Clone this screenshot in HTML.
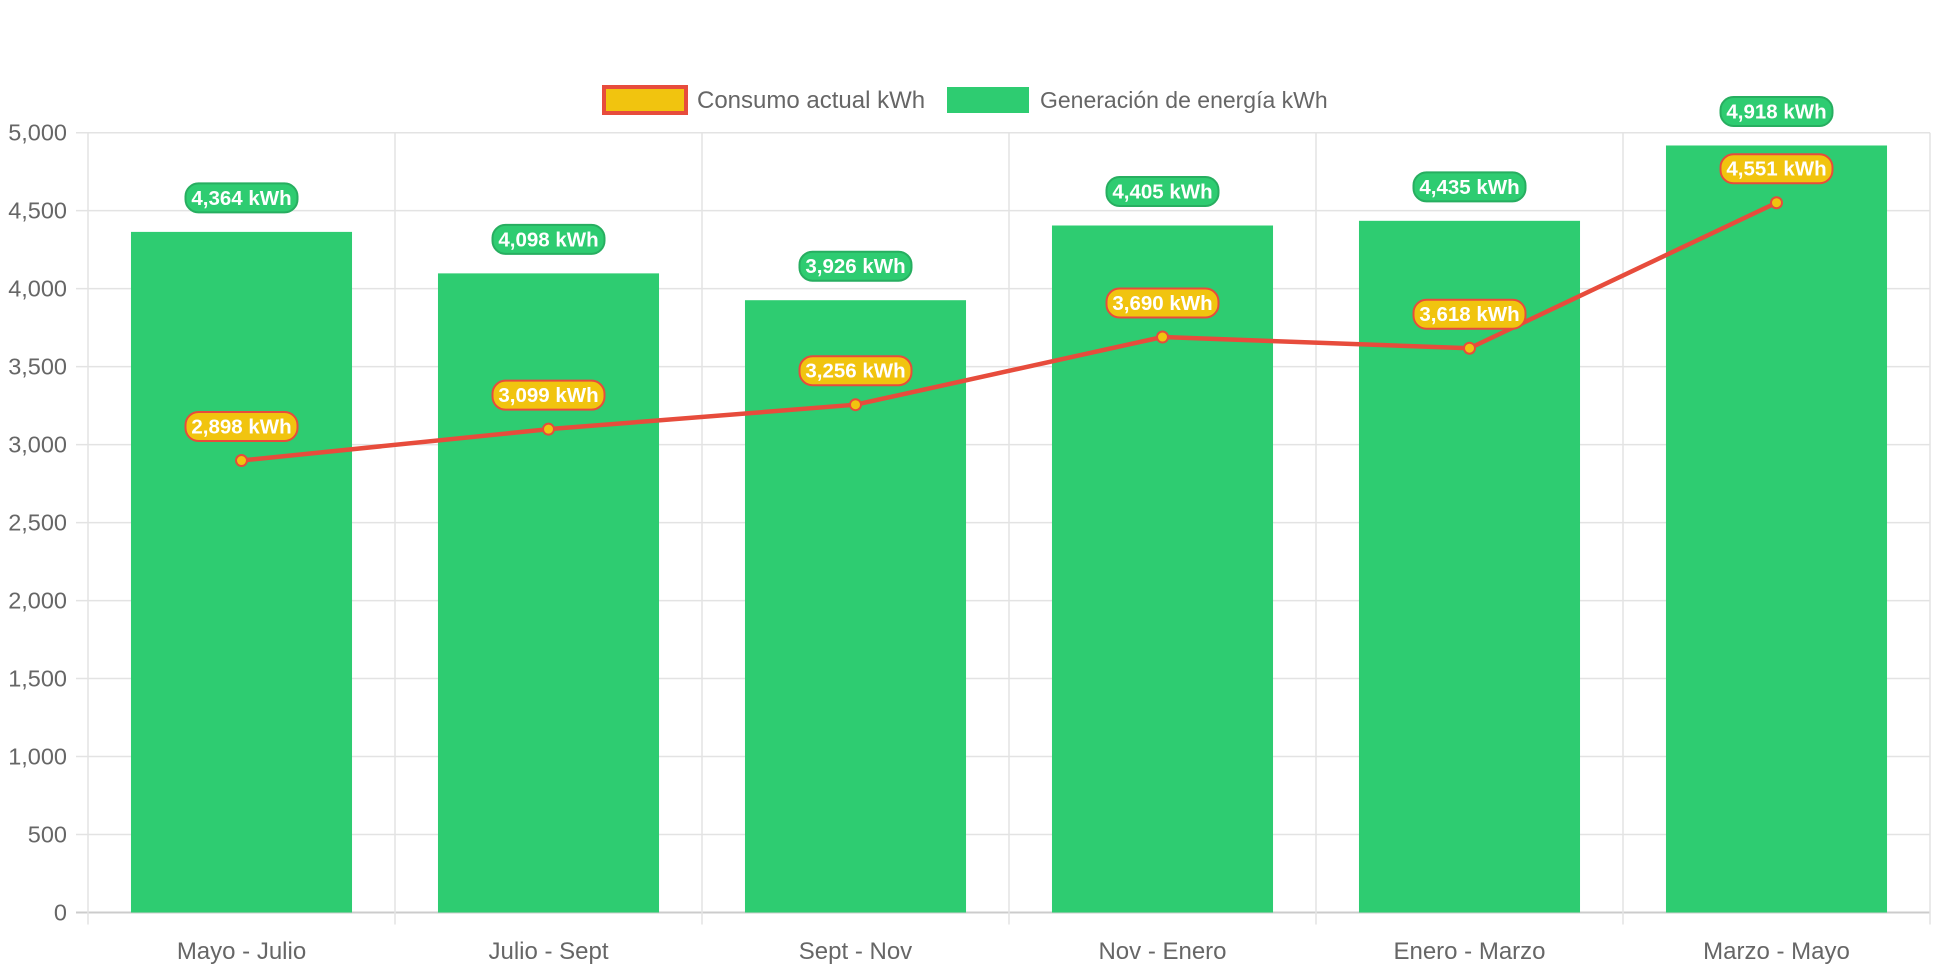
<!DOCTYPE html>
<html><head><meta charset="utf-8"><style>
html,body{margin:0;padding:0;background:#fff;}
svg{display:block;font-family:"Liberation Sans",Helvetica,Arial,sans-serif;}
</style></head><body>
<svg id="chart" width="1942" height="970" viewBox="0 0 1942 970" xmlns="http://www.w3.org/2000/svg">
<g id="legend">
  <g>
    <rect x="604" y="87" width="82" height="26" fill="#f1c40f" stroke="#e74c3c" stroke-width="4"/>
    <text x="697" y="108" font-size="24" fill="#666">Consumo actual kWh</text>
  </g>
  <g>
    <rect x="947" y="87" width="82" height="26" fill="#2ecc71"/>
    <text x="1040" y="108" font-size="23" fill="#666">Generación de energía kWh</text>
  </g>
</g>
<g id="grid"></g>
<g id="bars"></g>
<g id="line"></g>
<g id="labels"></g>
</svg>
<script>
const categories = ["Mayo - Julio","Julio - Sept","Sept - Nov","Nov - Enero","Enero - Marzo","Marzo - Mayo"];
const generacion = [4364,4098,3926,4405,4435,4918];
const consumo = [2898,3099,3256,3690,3618,4551];
const yTicks = [0,500,1000,1500,2000,2500,3000,3500,4000,4500,5000];

const NS="http://www.w3.org/2000/svg";
const plotLeft=88,plotRight=1930,plotTop=132.7,plotBottom=912.5,yMax=5000;
const catW=(plotRight-plotLeft)/categories.length;
const yScale=v=>plotBottom-(v/yMax)*(plotBottom-plotTop);
const xc=i=>plotLeft+catW*(i+0.5);
function mk(tag,attrs,parent){const e=document.createElementNS(NS,tag);for(const k in attrs)e.setAttribute(k,attrs[k]);parent.appendChild(e);return e;}
const grid=document.getElementById('grid'),bars=document.getElementById('bars'),line=document.getElementById('line'),labels=document.getElementById('labels');
yTicks.forEach(t=>{
  const l=mk('line',{x1:plotLeft-12,x2:plotRight,y1:yScale(t),y2:yScale(t),stroke:t===0?'#ccc':'#e3e3e3','stroke-width':t===0?2:1.5},grid);
  
  
  const tx=mk('text',{x:plotLeft-21,y:yScale(t)+8,'text-anchor':'end','font-size':23.5,fill:'#666'},grid);
  tx.textContent=t.toLocaleString('en-US');
  
  
});
for(let i=0;i<=categories.length;i++){
  const gx=plotLeft+catW*i;
  const l=mk('line',{x1:gx,x2:gx,y1:plotTop,y2:plotBottom+12,stroke:'#e3e3e3','stroke-width':1.5},grid);
  
  
}
categories.forEach((c,i)=>{
  const tx=mk('text',{x:xc(i),y:959,'text-anchor':'middle','font-size':24,fill:'#666'},grid);
  tx.textContent=c;
  
  
});
const bw=catW*0.72;
generacion.forEach((v,i)=>{
  const r=mk('rect',{x:xc(i)-bw/2,y:yScale(v),width:bw,height:plotBottom-yScale(v),fill:'#2ecc71'},bars);
  
  
});
const pts=consumo.map((v,i)=>xc(i)+','+yScale(v)).join(' ');
const pl=mk('polyline',{points:pts,fill:'none',stroke:'#e74c3c','stroke-width':4.5,'stroke-linejoin':'round'},line);


consumo.forEach((v,i)=>{
  const c=mk('circle',{cx:xc(i),cy:yScale(v),r:5.5,fill:'#f1c40f',stroke:'#e74c3c','stroke-width':2},line);
  
  
});
function badge(v,i,fill,stroke,name){
  const g=mk('g',{},labels);
  
  
  const cy=yScale(v)-34;
  mk('rect',{x:xc(i)-56,y:cy-14.5,width:112,height:29,rx:13,fill:fill,stroke:stroke,'stroke-width':2},g);
  const t=mk('text',{x:xc(i),y:cy+7,'text-anchor':'middle','font-size':20.5,'font-weight':'bold',fill:'#fff'},g);
  t.textContent=v.toLocaleString('en-US')+' kWh';
}
generacion.forEach((v,i)=>badge(v,i,'#2ecc71','#27ae60','generacion-value-label'));
consumo.forEach((v,i)=>badge(v,i,'#f1c40f','#e74c3c','consumo-value-label'));
</script>
</body></html>
